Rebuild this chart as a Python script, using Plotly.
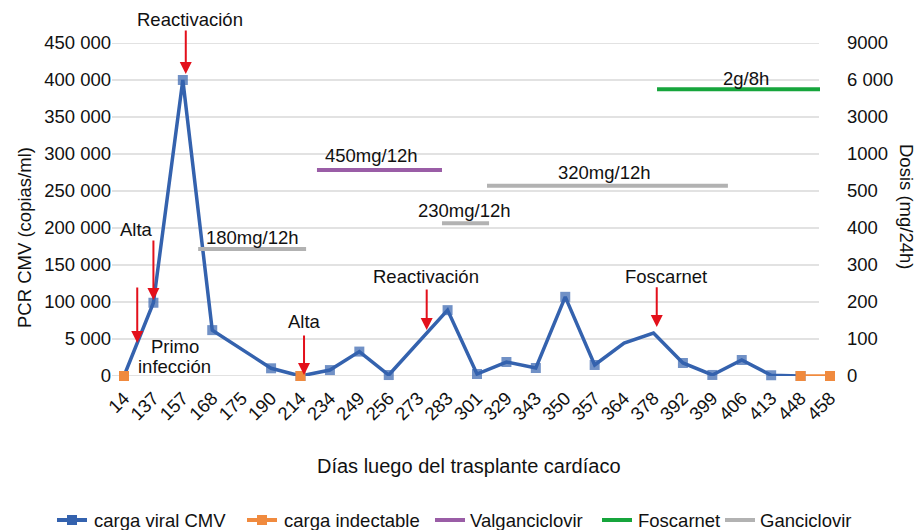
import plotly.graph_objects as go

# ---------------- data ----------------
dias = ["14", "137", "157", "168", "175", "190", "214", "234", "249", "256", "273", "283", "301",
        "329", "343", "350", "357", "364", "378", "392", "399", "406", "413", "448", "458"]

carga_viral = [0, 99000, 400000, 62000, None, 10400, 0, 8000, 33000, 1300, 44600, 89000, 2700,
               18900, 10800, 107000, 14900, 44600, 58000, 17600, 1400, 21600, 1000, 0, None]
con_marcador = [True, True, True, True, False, True, True, True, True, True, False, True, True,
                True, True, True, True, False, False, True, True, True, True, True, False]

carga_indectable = [0, None, None, None, None, None, 0, None, None, None, None, None, None,
                    None, None, None, None, None, None, None, None, None, None, 0, 0]

left_ticks = [0, 50000, 100000, 150000, 200000, 250000, 300000, 350000, 400000, 450000]
left_ticktext = ["0", "5 000", "100 000", "150 000", "200 000", "250 000", "300 000",
                 "350 000", "400 000", "450 000"]
right_ticktext = ["0", "100", "200", "300", "400", "500", "1000", "3000", "6 000", "9000"]

# dose segments: start / end position (category index), level on right axis (tick index)
valgan_start, valgan_end, valgan_level = [6.56], [10.81], [5.57]
fosc_start, fosc_end, fosc_level = [18.12], [23.66], [7.75]
ganci_start = [2.52, 10.81, 12.34]
ganci_end = [6.19, 12.41, 20.53]
ganci_level = [3.43, 4.13, 5.14]

dose_labels = ["180mg/12h", "450mg/12h", "230mg/12h", "320mg/12h", "2g/8h"]
dose_label_x = [4.37, 8.42, 11.56, 16.32, 21.14]
dose_label_y = [3.73, 5.97, 4.47, 5.49, 8.05]

event_labels = ["Alta", "Primo", "infección", "Alta", "Reactivación", "Foscarnet"]
event_x = [0.41, 1.73, 1.73, 6.15, 10.27, 18.42]
event_y = [198600, 40500, 13500, 74300, 133800, 135100]
top_label = "Reactivación"

arrow_x = [0.45, 1.0, 2.1, 6.12, 10.29, 18.11]
arrow_tail = [121600, 185100, 469000, 56800, 118900, 122000]
arrow_tip = [44600, 102700, 408100, 1350, 62200, 66200]

legend_names = ["carga viral CMV", "carga indectable", "Valganciclovir", "Foscarnet", "Ganciclovir"]

# ---------------- figure ----------------
BLUE = "#3462AE"
ORANGE = "#F08A3E"
PURPLE = "#9A5DA6"
GREEN = "#16A53C"
GRAY = "#B2B2B2"
RED = "#E3101B"
TXT = "#111111"
FONT = "Liberation Sans, Arial, sans-serif"
FS = 18.5

# the page body adds an 8px margin; lay out in window pixels and compensate
OFF = 8
W, H = 923 - OFF, 530 - OFF
# plot area in window pixels: x 112..840, y 43..376
ML, MR, MT, MB = 112 - OFF, 923 - 840, 43 - OFF, 530 - 376
PW, PH = W - ML - MR, H - MT - MB


def px(x):
    return (x - OFF - ML) / PW


def py(y):
    return (H - MB - (y - OFF)) / PH


idx = list(range(len(dias)))


def segs(starts, ends, levels):
    xs, ys = [], []
    for s, e, l in zip(starts, ends, levels):
        xs += [s, e, None]
        ys += [l, l, None]
    return xs, ys


fig = go.Figure()

fig.add_trace(go.Scatter(
    x=idx, y=carga_viral, name=legend_names[0], mode="lines+markers",
    connectgaps=True, line=dict(color=BLUE, width=3.5),
    marker=dict(symbol="square", size=[10 if m else 0 for m in con_marcador], color=BLUE,
                line=dict(width=0)),
    cliponaxis=False))

fig.add_trace(go.Scatter(
    x=idx, y=carga_indectable, name=legend_names[1], mode="lines+markers",
    connectgaps=False, line=dict(color=ORANGE, width=3.5),
    marker=dict(symbol="square", size=10, color=ORANGE, line=dict(width=0)),
    cliponaxis=False))

for name, st, en, lv, col in [(legend_names[2], valgan_start, valgan_end, valgan_level, PURPLE),
                               (legend_names[3], fosc_start, fosc_end, fosc_level, GREEN),
                               (legend_names[4], ganci_start, ganci_end, ganci_level, GRAY)]:
    xs, ys = segs(st, en, lv)
    fig.add_trace(go.Scatter(x=xs, y=ys, name=name, mode="lines", yaxis="y2",
                             line=dict(color=col, width=4), cliponaxis=False))

annotations = []
for t, x, y in zip(dose_labels, dose_label_x, dose_label_y):
    annotations.append(dict(text=t, x=x, y=y, xref="x", yref="y2", showarrow=False,
                            xanchor="center", yanchor="middle",
                            font=dict(size=FS, color=TXT)))
for t, x, y in zip(event_labels, event_x, event_y):
    annotations.append(dict(text=t, x=x, y=y, xref="x", yref="y", showarrow=False,
                            xanchor="center", yanchor="middle",
                            font=dict(size=FS, color=TXT)))
annotations.append(dict(text=top_label, x=2.24, y=py(19), xref="x", yref="paper",
                        xanchor="center", yanchor="middle",
                        showarrow=False, font=dict(size=FS, color=TXT)))
for x, t0, t1 in zip(arrow_x, arrow_tail, arrow_tip):
    annotations.append(dict(text="", x=x, y=t1, ax=x, ay=t0, xref="x", yref="y",
                            axref="x", ayref="y", showarrow=True, arrowhead=2,
                            arrowsize=1.2, arrowwidth=2, arrowcolor=RED))
annotations.append(dict(text="Días luego del trasplante cardíaco", x=px(469), y=py(466),
                        xref="paper", yref="paper", showarrow=False,
                        xanchor="center", yanchor="middle",
                        font=dict(size=20, color=TXT)))
annotations.append(dict(text="PCR CMV (copias/ml)", x=px(24), y=py(238), xref="paper",
                        yref="paper", showarrow=False, textangle=-90,
                        xanchor="center", yanchor="middle",
                        font=dict(size=FS, color=TXT)))
annotations.append(dict(text="Dosis (mg/24h)", x=px(907), y=py(207), xref="paper",
                        yref="paper", showarrow=False, textangle=90,
                        xanchor="center", yanchor="middle",
                        font=dict(size=FS, color=TXT)))

shapes = [dict(type="line", xref="paper", yref="y", x0=0, x1=px(819), y0=v, y1=v,
               line=dict(color="#D9D9D9", width=1.5), layer="below") for v in left_ticks]

# manual legend (single row, as in the reference)
leg_y = 520
leg_sym = [(57, 87), (247, 277), (435, 465), (602, 632), (725, 755)]
leg_txt = [92, 282, 468, 636, 758]
leg_col = [BLUE, ORANGE, PURPLE, GREEN, GRAY]
leg_marker = [True, True, False, False, False]
for (a, b), tx, col, mk, name in zip(leg_sym, leg_txt, leg_col, leg_marker, legend_names):
    shapes.append(dict(type="line", xref="paper", yref="paper", x0=px(a), x1=px(b),
                       y0=py(leg_y), y1=py(leg_y), line=dict(color=col, width=4)))
    if mk:
        c = (a + b) / 2
        shapes.append(dict(type="rect", xref="paper", yref="paper", x0=px(c - 5), x1=px(c + 5),
                           y0=py(leg_y + 5), y1=py(leg_y - 5), fillcolor=col,
                           line=dict(width=0)))
    annotations.append(dict(text=name, x=px(tx), y=py(leg_y), xref="paper", yref="paper",
                            xanchor="left", yanchor="middle", showarrow=False,
                            font=dict(size=FS, color=TXT)))

fig.update_layout(
    width=W, height=H,
    margin=dict(l=ML, r=MR, t=MT, b=MB),
    paper_bgcolor="white", plot_bgcolor="white",
    font=dict(family=FONT, size=FS, color=TXT),
    showlegend=False,
    xaxis=dict(tickmode="array", tickvals=idx, ticktext=dias, tickangle=-45,
               range=[-0.408, 24.34], showgrid=False, zeroline=False, showline=False,
               ticks="", tickfont=dict(size=FS), automargin=False, ticklabelstandoff=7),
    yaxis=dict(range=[0, 450000], tickvals=left_ticks, ticktext=left_ticktext,
               showgrid=False, zeroline=False, showline=False, ticks="",
               tickfont=dict(size=FS), automargin=False),
    yaxis2=dict(range=[0, 9], tickvals=list(range(10)), ticktext=right_ticktext,
                overlaying="y", side="right", showgrid=False, zeroline=False,
                showline=False, ticks="", tickfont=dict(size=FS), automargin=False,
                ticklabelstandoff=6),
    annotations=annotations,
    shapes=shapes,
)

fig.write_html("out.html")
